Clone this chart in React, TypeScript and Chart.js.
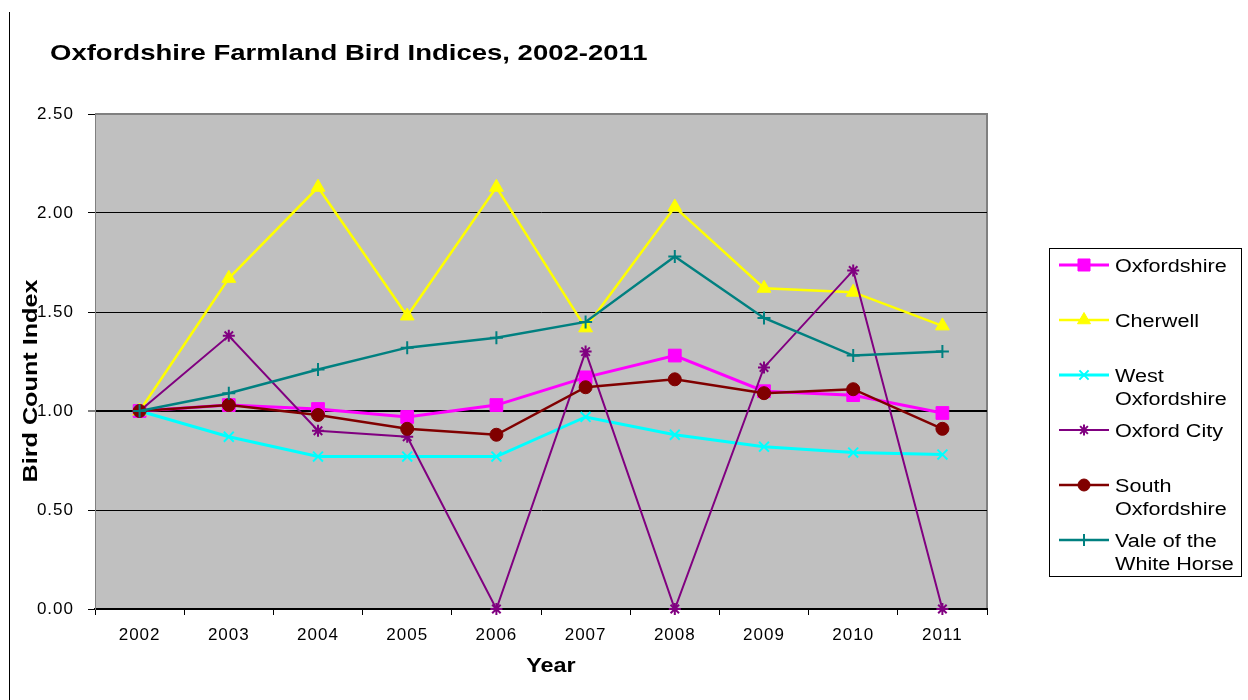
import React, { useEffect, useRef } from 'react';
import { Chart, registerables } from 'chart.js';
import { drawPoint } from 'chart.js/helpers';

Chart.register(...registerables);

const years = ['2002', '2003', '2004', '2005', '2006', '2007', '2008', '2009', '2010', '2011'];

const oxfordshire = [1.0, 1.03, 1.01, 0.97, 1.03, 1.17, 1.28, 1.1, 1.08, 0.99];
const cherwell = [1.0, 1.67, 2.13, 1.48, 2.13, 1.42, 2.03, 1.62, 1.6, 1.43];
const westOxfordshire = [1.0, 0.87, 0.77, 0.77, 0.77, 0.97, 0.88, 0.82, 0.79, 0.78];
const oxfordCity = [1.0, 1.38, 0.9, 0.87, 0.0, 1.3, 0.0, 1.22, 1.71, 0.0];
const southOxfordshire = [1.0, 1.03, 0.98, 0.91, 0.88, 1.12, 1.16, 1.09, 1.11, 0.91];
const valeWhiteHorse = [1.0, 1.09, 1.21, 1.32, 1.37, 1.45, 1.78, 1.47, 1.28, 1.3];

const seriesNames = ['Oxfordshire', 'Cherwell', 'West Oxfordshire', 'Oxford City', 'South Oxfordshire', 'Vale of the White Horse'];
const legendLines = [['Oxfordshire'], ['Cherwell'], ['West', 'Oxfordshire'], ['Oxford City'], ['South', 'Oxfordshire'], ['Vale of the', 'White Horse']];
const seriesData = [oxfordshire, cherwell, westOxfordshire, oxfordCity, southOxfordshire, valeWhiteHorse];
const seriesColors = ['#FF00FF', '#FFFF00', '#00FFFF', '#800080', '#800000', '#008080'];
const seriesMarkers = ['rect', 'triangle', 'crossRot', 'star', 'circle', 'cross'];
const markerRadius = [9, 8, 7, 6, 6.5, 6.5];
const markerBorder = [1, 1, 2, 2, 1, 2];
const lineWidths = [3, 2.5, 3, 2, 2.5, 2.5];

const yTicks = [0, 0.5, 1.0, 1.5, 2.0, 2.5];

const titleText = 'Oxfordshire Farmland Bird Indices, 2002-2011';
const yTitle = 'Bird Count Index';
const xTitle = 'Year';

const FONT = '"Liberation Sans", Arial, sans-serif';

function stretched(ctx: CanvasRenderingContext2D, text: string, x: number, y: number, sx: number, align: CanvasTextAlign) {
  ctx.save();
  ctx.translate(x, y);
  ctx.scale(sx, 1);
  ctx.textAlign = align;
  ctx.textBaseline = 'alphabetic';
  ctx.fillText(text, 0, 0);
  ctx.restore();
}

const framePlugin = {
  id: 'frame',
  beforeDraw(chart: any) {
    const { ctx, chartArea: a } = chart;
    ctx.save();
    ctx.fillStyle = '#FFFFFF';
    ctx.fillRect(0, 0, chart.width, chart.height);
    ctx.fillStyle = '#C0C0C0';
    ctx.fillRect(a.left, a.top, a.right - a.left, a.bottom - a.top);
    ctx.strokeStyle = '#808080';
    ctx.lineWidth = 2;
    ctx.beginPath();
    ctx.moveTo(a.left, a.top);
    ctx.lineTo(a.right, a.top);
    ctx.lineTo(a.right, a.bottom);
    ctx.stroke();
    ctx.strokeStyle = '#000000';
    ctx.lineWidth = 1;
    ctx.beginPath();
    ctx.moveTo(9.5, 12);
    ctx.lineTo(9.5, 700);
    ctx.stroke();
    ctx.restore();
    ctx.letterSpacing = '1px';
  },
  afterDraw(chart: any) {
    const { ctx } = chart;
    ctx.save();
    ctx.letterSpacing = '0px';
    ctx.fillStyle = '#000000';
    // title
    ctx.font = `bold 22px ${FONT}`;
    stretched(ctx, titleText, 50, 60, 1.25, 'left');
    // axis titles
    ctx.font = `bold 20px ${FONT}`;
    ctx.save();
    ctx.translate(37, 381);
    ctx.rotate(-Math.PI / 2);
    stretched(ctx, yTitle, 0, 0, 1.26, 'center');
    ctx.restore();
    stretched(ctx, xTitle, 551, 672, 1.17, 'center');

    // legend
    ctx.strokeStyle = '#000000';
    ctx.lineWidth = 1;
    ctx.strokeRect(1049.5, 248.5, 192, 328);
    ctx.font = `18px ${FONT}`;
    legendLines.forEach((lines, i) => {
      const y = 265 + i * 55;
      ctx.save();
      ctx.strokeStyle = seriesColors[i];
      ctx.lineWidth = lineWidths[i];
      ctx.beginPath();
      ctx.moveTo(1059, y);
      ctx.lineTo(1109, y);
      ctx.stroke();
      ctx.fillStyle = seriesColors[i];
      ctx.lineWidth = markerBorder[i];
      drawPoint(ctx, { pointStyle: seriesMarkers[i], radius: markerRadius[i] - 0.5, rotation: 0, borderWidth: markerBorder[i] } as any, 1084, y);
      ctx.restore();
      ctx.fillStyle = '#000000';
      lines.forEach((line, j) => {
        stretched(ctx, line, 1115, y + 7 + j * 23, 1.2, 'left');
      });
    });
    ctx.restore();
  },
};

export default function App() {
  const ref = useRef<HTMLCanvasElement>(null);
  useEffect(() => {
    const canvas = ref.current!;
    const chart = new Chart(canvas, {
      type: 'line',
      data: {
        labels: years,
        datasets: seriesData.map((d, i) => ({
          label: seriesNames[i],
          data: d,
          borderColor: seriesColors[i],
          backgroundColor: seriesColors[i],
          borderWidth: lineWidths[i],
          pointStyle: seriesMarkers[i] as any,
          pointRadius: markerRadius[i],
          pointBorderWidth: markerBorder[i],
          pointBackgroundColor: seriesColors[i],
          pointBorderColor: seriesColors[i],
          pointHoverRadius: markerRadius[i],
          tension: 0,
          fill: false,
          clip: false as any,
          order: 10 - i,
        })),
      },
      options: {
        responsive: false,
        animation: false,
        devicePixelRatio: 1,
        layout: { padding: { top: 114, right: 261, left: 0, bottom: 0 } },
        plugins: {
          legend: { display: false },
          title: { display: false },
          tooltip: { enabled: false },
        },
        scales: {
          x: {
            type: 'category',
            offset: true,
            grid: {
              offset: true,
              drawOnChartArea: false,
              color: '#000000',
              tickLength: 6,
              lineWidth: 1,
            },
            border: { color: '#000000', width: 2 },
            ticks: {
              color: '#000000',
              font: { family: FONT, size: 17 },
              padding: 10,
              maxRotation: 0,
              autoSkip: false,
            },
            afterFit: (s: any) => {
              s.height = 91;
            },
          },
          y: {
            min: 0,
            max: 2.5,
            afterBuildTicks: (s: any) => {
              s.ticks = yTicks.map((v) => ({ value: v }));
            },
            grid: {
              color: (c: any) => (c.tick && c.tick.value === 2.5 ? '#808080' : '#000000'),
              lineWidth: (c: any) => (c.tick && c.tick.value === 1 ? 2 : 1),
              tickColor: '#000000',
              tickWidth: 1,
              tickLength: 7,
            },
            border: { color: '#808080', width: 1 },
            ticks: {
              color: '#000000',
              font: { family: FONT, size: 17 },
              padding: 14,
              callback: (v: any) => Number(v).toFixed(2),
            },
            afterFit: (s: any) => {
              s.width = 95;
            },
          },
        },
      },
      plugins: [framePlugin],
    });
    return () => chart.destroy();
  }, []);
  return (
    <div style={{ position: 'fixed', left: 0, top: 0, width: 1248, height: 700, background: '#FFFFFF' }}>
      <canvas ref={ref} width={1248} height={700} style={{ display: 'block', width: 1248, height: 700 }} />
    </div>
  );
}
